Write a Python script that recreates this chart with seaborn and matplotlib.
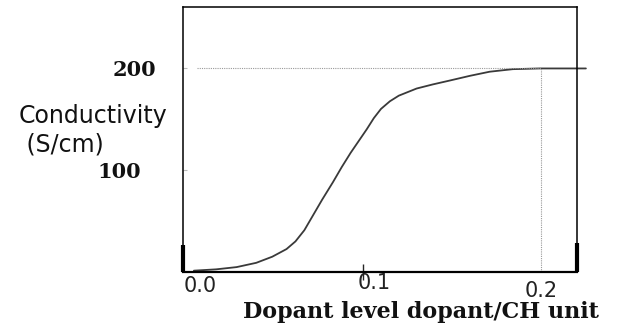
import matplotlib
matplotlib.use("Agg")
import matplotlib.pyplot as plt
import matplotlib.transforms as mtransforms
import seaborn as sns
import pandas as pd

# values
dopant = [0.005, 0.0175, 0.029, 0.040, 0.049, 0.057, 0.062, 0.067, 0.072, 0.077,
          0.083, 0.088, 0.093, 0.102, 0.106, 0.110, 0.115, 0.120, 0.130, 0.139,
          0.149, 0.160, 0.171, 0.184, 0.199, 0.225]
conductivity = [1.3, 2.6, 4.8, 9, 15, 22.5, 30, 41, 56, 71,
                88, 103, 117, 140, 151, 160, 167.5, 173, 180, 184,
                188, 192.5, 196.5, 199, 199.7, 199.7]
x_ticks = [0.0, 0.1, 0.2]
x_tick_labels = ["0.0", "0.1", "0.2"]
y_ticks = [100, 200]
y_tick_labels = ["100", "200"]
saturation = 200
saturation_level = 0.2


def shift(label, dx, dy):
    # nudge a tick label by dx, dy points
    label.set_transform(label.get_transform()
                        + mtransforms.ScaledTranslation(dx / 72, dy / 72,
                                                        fig.dpi_scale_trans))


sns.set_style("white")
plt.rcParams["font.family"] = ["DejaVu Sans"]

df = pd.DataFrame({"dopant": dopant, "conductivity": conductivity})

fig = plt.figure(figsize=(6.25, 3.25), dpi=100)
ax = fig.add_axes([0.2928, 0.1631, 0.6304, 0.8154])

sns.lineplot(data=df, x="dopant", y="conductivity", ax=ax, sort=False,
             estimator=None, color="#3a3a3a", lw=1.3, clip_on=False)

# guide lines at saturation
ax.hlines(saturation, 0.0067, saturation_level, colors="#999999", lw=0.8,
          linestyles=(0, (1, 1)))
ax.vlines(saturation_level, 0, saturation, colors="#999999", lw=0.8,
          linestyles=(0, (1, 1)))

ax.set_xlim(-0.0011, 0.2200)
ax.set_ylim(0, 260)

for s in ax.spines.values():
    s.set_visible(True)
    s.set_color("black")
    s.set_linewidth(1.1)
ax.spines["bottom"].set_linewidth(1.6)

# thick strokes at the bottom of the side spines
ax.plot([0, 0], [0, 0.1], transform=ax.transAxes, color="black", lw=3,
        clip_on=False, solid_capstyle="butt")
ax.plot([1, 1], [0, 0.11], transform=ax.transAxes, color="black", lw=3,
        clip_on=False, solid_capstyle="butt")

ax.set_xticks(x_ticks)
ax.set_xticklabels(x_tick_labels, fontsize=15, color="#222222")
ax.set_yticks(y_ticks)
ax.set_yticklabels(y_tick_labels, fontsize=15, fontweight="bold",
                   family="DejaVu Serif", color="#111111")
ax.tick_params(axis="x", bottom=True, length=0, pad=3, direction="inout")
ax.tick_params(axis="y", left=True, length=3, direction="in",
               color="#bbbbbb", pad=19)

# only the 0.1 tick shows a crossing mark
xt = ax.xaxis.get_major_ticks()
xt[1].tick1line.set_visible(True)
xt[1].tick1line.set_markersize(12)
xt[1].tick1line.set_markeredgewidth(1.0)
xt[1].tick1line.set_color("black")

xl = ax.get_xticklabels()
shift(xl[0], 11, 0)
shift(xl[1], 8, 2.5)
shift(xl[2], 0, -3.5)
yl = ax.get_yticklabels()
shift(yl[0], -11, 0)

ax.set_xlabel("Dopant level dopant/CH unit", family="DejaVu Serif",
              fontweight="bold", fontsize=16, va="center", color="#111111")
ax.xaxis.set_label_coords(0.605, -0.152)
ax.set_ylabel("Conductivity\n (S/cm)", rotation=0, fontsize=17, ha="center",
              va="center", multialignment="left", color="#111111")
ax.yaxis.set_label_coords(-0.228, 0.535)

fig.savefig("out.png", dpi=100)
